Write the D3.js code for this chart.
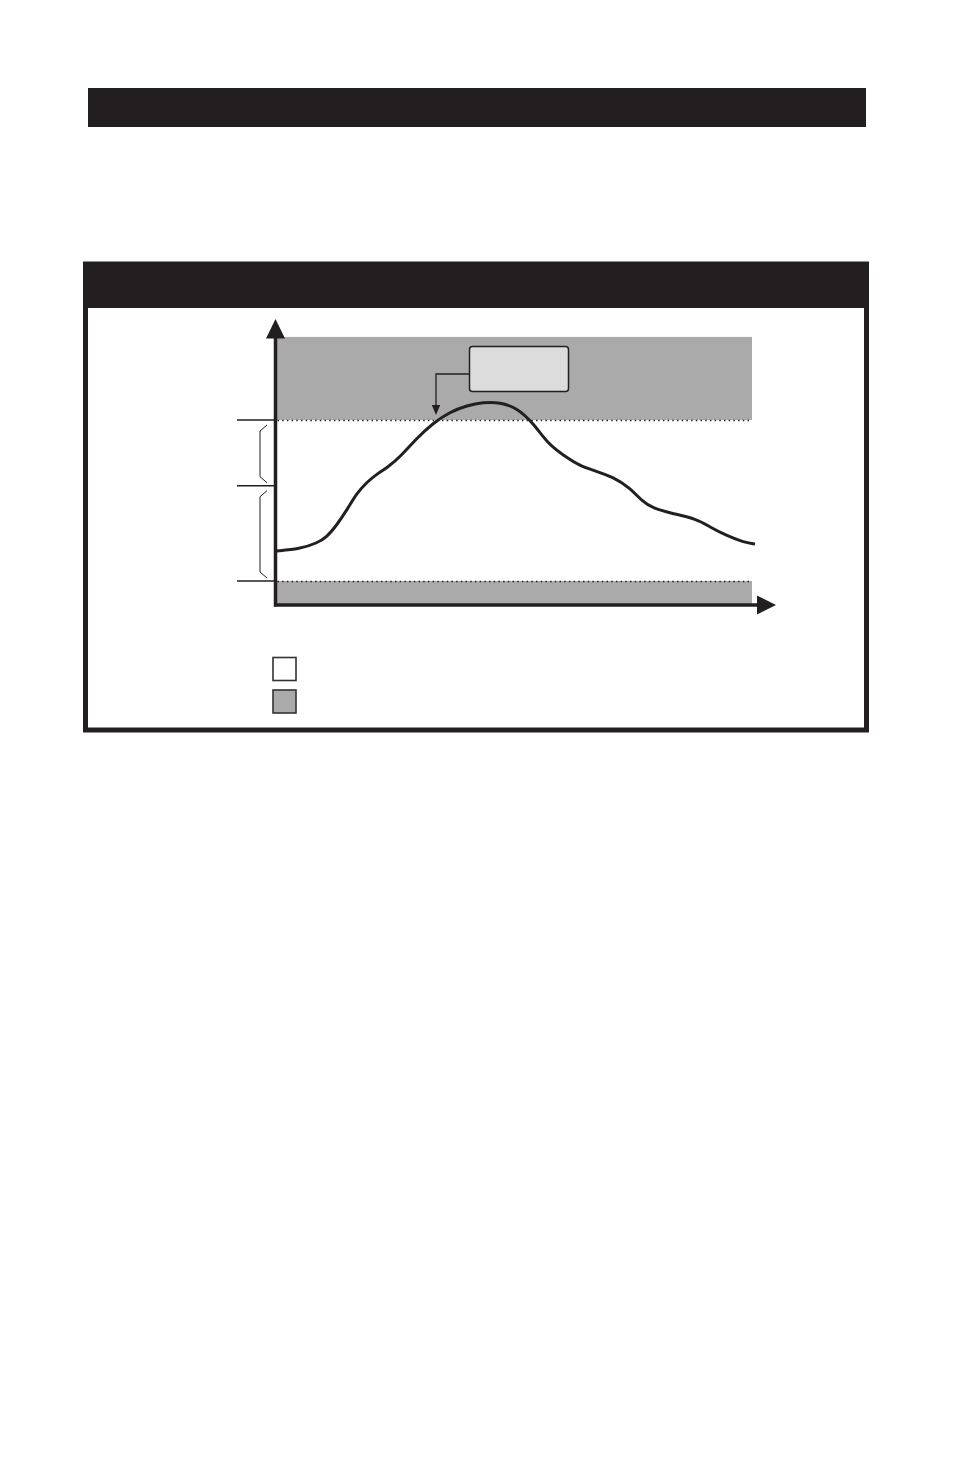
<!DOCTYPE html>
<html>
<head>
<meta charset="utf-8">
<script src="https://cdn.jsdelivr.net/npm/d3@7"></script>
<style>
  body { margin: 0; background: #fff; }
</style>
</head>
<body>
<div id="chart"></div>
<script>
// curve readings: time (0-100) and level (0 = low limit, 100 = high limit)
const times = [0, 5, 8.6, 10.6, 12.7, 14.8, 16.9, 19, 21.1, 23.4, 25.9, 29.4, 32.8, 36.3, 39.9, 43.2, 46.8,
    50.3, 53.7, 56.8, 59.9, 63.5, 66.2, 70.4, 73.9, 76.6, 78.7, 82.3, 87.9, 90.6, 94.2, 97.5, 100];
const levels = [18.6, 19.9, 23.6, 27.3, 34.8, 44.1, 54.7, 61.5, 66.5, 70.8, 77, 88.8, 98.1, 105, 109, 111, 111,
    107.5, 98.1, 85.1, 78.3, 71.4, 68.9, 64.6, 57.8, 49.1, 45.3, 42.2, 38.5, 33.5, 28, 24.2, 23];

// limits / tick marks on the level axis
const lowLimit = 0;
const midLevel = 59.2;
const highLimit = 100;
const bandTop = 151.6;
const levelTicks = [lowLimit, midLevel, highLimit];

// tick-brace ranges (pairs of levels)
const braces = [[midLevel, highLimit], [lowLimit, midLevel]];

// legend fills
const legendFills = ["#ffffff", "#aaaaaa"];

const ink = "#231f20";
const grey = "#aaaaaa";

const svg = d3.select("#chart").append("svg")
    .attr("width", 954)
    .attr("height", 1475);

// top title bar
svg.append("rect")
    .attr("x", 88).attr("y", 88)
    .attr("width", 778).attr("height", 39)
    .attr("fill", ink);

// panel frame + header
svg.append("rect")
    .attr("x", 85.5).attr("y", 264)
    .attr("width", 781).attr("height", 466)
    .attr("fill", "#fff")
    .attr("stroke", ink)
    .attr("stroke-width", 5);
svg.append("rect")
    .attr("x", 83).attr("y", 262)
    .attr("width", 786).attr("height", 46)
    .attr("fill", ink);

// scales
const x = d3.scaleLinear().domain([0, 100]).range([276, 755]);
const y = d3.scaleLinear().domain([0, 100]).range([581, 420]);
const axisX = 275.5, axisY = y(-14.9);

// bands
svg.append("rect")
    .attr("x", axisX).attr("y", y(bandTop))
    .attr("width", 752 - axisX).attr("height", y(highLimit) - y(bandTop))
    .attr("fill", grey);
svg.append("rect")
    .attr("x", axisX).attr("y", y(lowLimit))
    .attr("width", 752 - axisX).attr("height", axisY - y(lowLimit))
    .attr("fill", grey);

// dotted limit lines
[highLimit, lowLimit].forEach(function (v) {
    svg.append("line")
        .attr("x1", axisX + 2).attr("x2", 750)
        .attr("y1", y(v) + 0.5).attr("y2", y(v) + 0.5)
        .attr("stroke", ink)
        .attr("stroke-width", 1.5)
        .attr("stroke-dasharray", "1.5 3.2");
});

// ticks to the left of the axis
svg.selectAll(".tick")
    .data(levelTicks)
    .join("line")
    .attr("class", "tick")
    .attr("x1", 237).attr("x2", axisX)
    .attr("y1", d => y(d)).attr("y2", d => y(d))
    .attr("stroke", ink)
    .attr("stroke-width", 1.6);

// braces between ticks
braces.forEach(function (b) {
    const top = y(b[1]) + 5, bot = y(b[0]) - 3;
    svg.append("path")
        .attr("d", `M267,${top} L260,${top + 6} L260,${bot - 6} L267,${bot}`)
        .attr("fill", "none")
        .attr("stroke", ink)
        .attr("stroke-width", 1);
});

// axes
svg.append("line")
    .attr("x1", axisX).attr("x2", axisX)
    .attr("y1", axisY + 1.5).attr("y2", 336)
    .attr("stroke", ink).attr("stroke-width", 3.5);
svg.append("path")
    .attr("d", `M${axisX},319 L${axisX + 9.5},338.5 L${axisX - 9.5},338.5 Z`)
    .attr("fill", ink);
svg.append("line")
    .attr("x1", axisX - 1.5).attr("x2", 760)
    .attr("y1", axisY).attr("y2", axisY)
    .attr("stroke", ink).attr("stroke-width", 3.5);
svg.append("path")
    .attr("d", `M776,${axisY} L757,${axisY - 9.5} L757,${axisY + 9.5} Z`)
    .attr("fill", ink);

// curve
const pts = times.map((t, i) => [t, levels[i]]);
svg.append("path")
    .datum(pts)
    .attr("d", d3.line()
        .x(d => x(d[0]))
        .y(d => y(d[1]))
        .curve(d3.curveBasis))
    .attr("fill", "none")
    .attr("stroke", ink)
    .attr("stroke-width", 3)
    .attr("stroke-linecap", "butt");

// callout box with leader arrow
svg.append("rect")
    .attr("x", 469.5).attr("y", 346.5)
    .attr("width", 99).attr("height", 45)
    .attr("rx", 3)
    .attr("fill", "#dcdcdc")
    .attr("stroke", ink)
    .attr("stroke-width", 1.5);
svg.append("path")
    .attr("d", "M469.5,374 L436,374 L436,406")
    .attr("fill", "none")
    .attr("stroke", ink)
    .attr("stroke-width", 1.3);
svg.append("path")
    .attr("d", "M436,415 L431.8,405 L440.2,405 Z")
    .attr("fill", ink);

// legend swatches
svg.selectAll(".swatch")
    .data(legendFills)
    .join("rect")
    .attr("class", "swatch")
    .attr("x", 273)
    .attr("y", (d, i) => 657.5 + i * 32.5)
    .attr("width", 23)
    .attr("height", 23)
    .attr("fill", d => d)
    .attr("stroke", "#333")
    .attr("stroke-width", 1.6);
</script>
</body>
</html>
